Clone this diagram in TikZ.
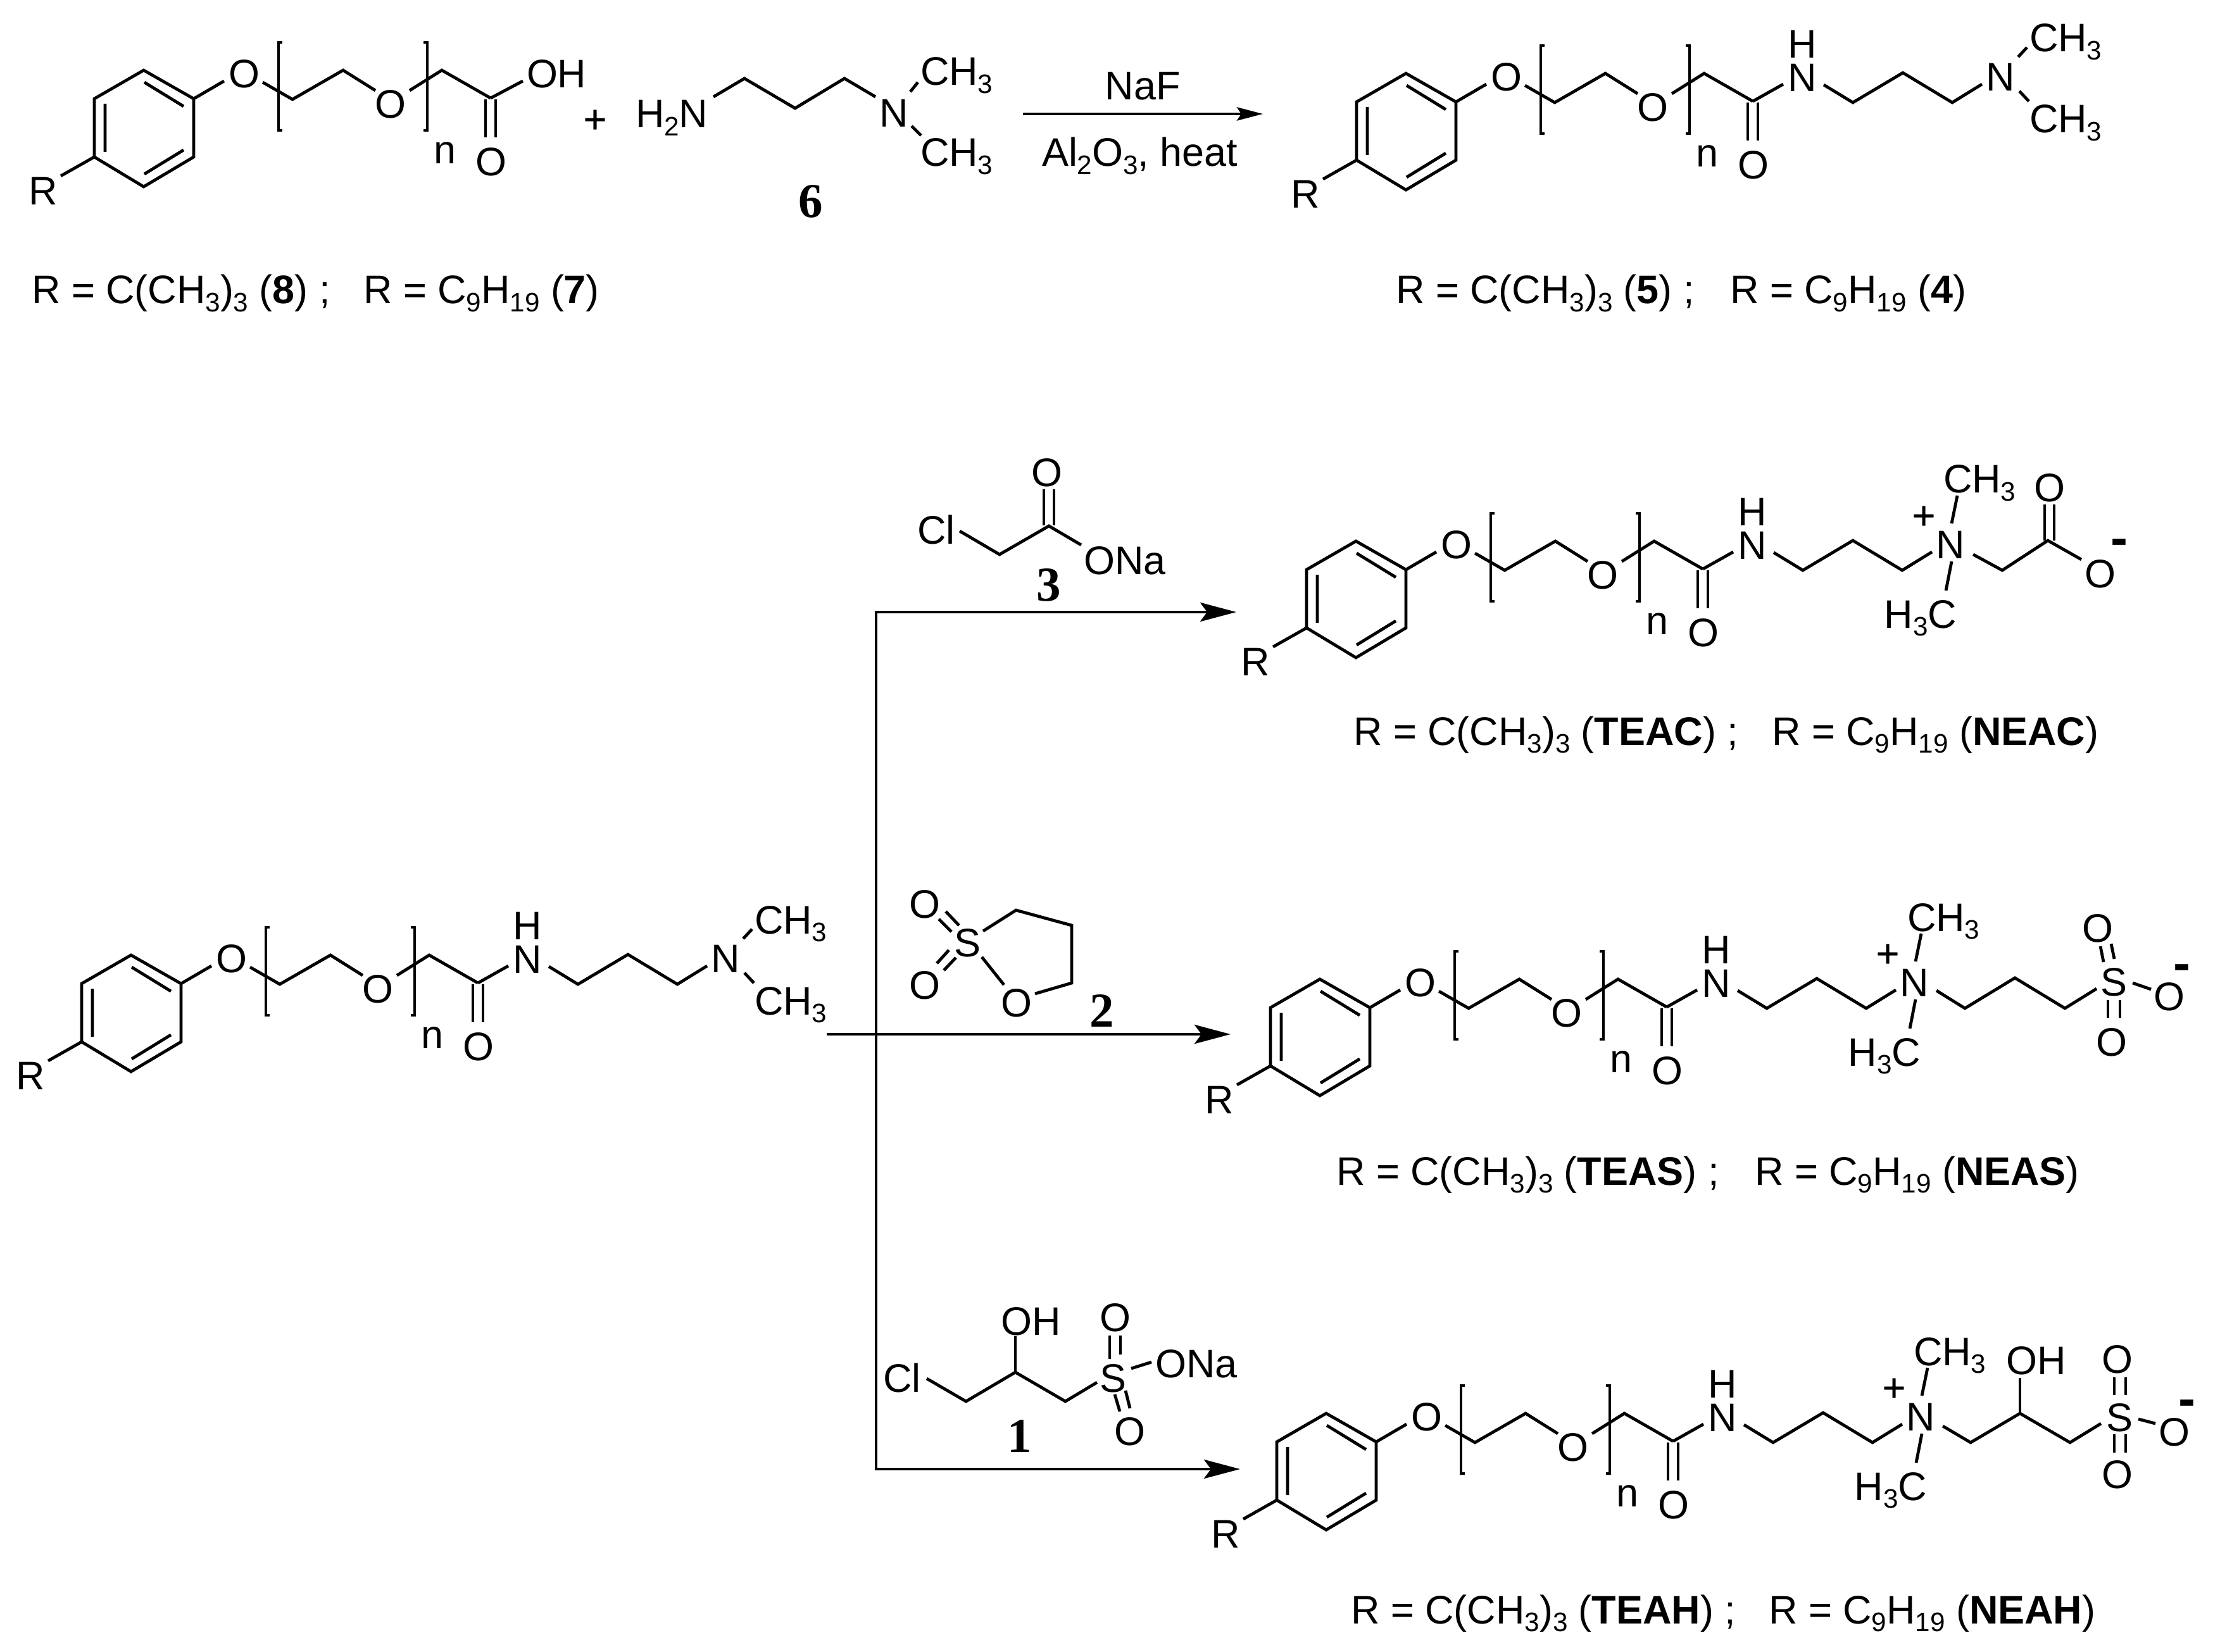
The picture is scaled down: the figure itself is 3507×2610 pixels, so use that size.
\documentclass[tikz,border=0pt]{standalone}
\usepackage{fontspec}
\usetikzlibrary{arrows.meta}
\setmainfont{Liberation Sans}
\newfontfamily\cmpdserif{Liberation Serif}
\newfontfamily\semibold[FakeBold=0.5]{Liberation Sans}
\newcommand{\chemfont}{\fontsize{17.9}{20}\selectfont}
\newcommand{\chsub}[1]{\raisebox{-0.2em}{\fontsize{12}{12}\selectfont #1}}
\newcommand{\eqs}{{\semibold =}}
\tikzset{
  bond/.style={line width=0.048cm,line cap=butt,line join=miter},
  rxn/.style={line width=0.048cm,line join=miter},
  atom/.style={inner sep=0,outer sep=0,font=\chemfont},
  lbl/.style={atom,anchor=base west},
  chg/.style={atom,anchor=base,font=\chemfont\semibold},
  minuslbl/.style={atom,anchor=base,font=\fontsize{23}{23}\selectfont\bfseries},
  cmpd/.style={inner sep=0,outer sep=0,font=\fontsize{21.9}{24}\selectfont\cmpdserif\bfseries},
  bigtip/.tip={Stealth[length=0.57cm,width=0.30cm,inset=0.11cm]},
  smalltip/.tip={Stealth[length=0.41cm,width=0.21cm,inset=0.07cm]},
}
% ring, ether, PEG bracket, carbonyl: carbonyl carbon at (775,155)
\newcommand{\pegbase}{%
  \draw[bond] (227,111) -- (306,156) -- (306,248) -- (227,295) -- (149,248) -- (149,156) -- cycle;
  \draw[bond] (228,130) -- (290,168) (166,164) -- (166,240) (228,275) -- (290,237);
  \node[atom] (R) at (68,302) {R};
  \draw[bond] (149,248) -- (96,278);
  \draw[bond] (306,156) -- (354,128);
  \node[atom] (O1) at (386,117) {O};
  \draw[bond] (415,130) -- (462,157) -- (542,111) -- (593,143);
  \node[atom] (O2) at (617,165) {O};
  \draw[bond] (647,143) -- (698,111) -- (775,155);
  \draw[bond] (446,67) -- (440,67) -- (440,206) -- (446,206);
  \draw[bond] (669,67) -- (675,67) -- (675,206) -- (669,206);
  \node[atom] (n) at (703,242) {n};
  \draw[bond] (767,157) -- (767,217) (783,157) -- (783,217);
  \node[atom] (O3) at (776,256) {O};
}
% amide NH and propyl chain, relative to the carbonyl carbon
\newcommand{\amide}{%
  \draw[bond] (0,0) -- (48,-27);
  \node[atom] (N1) at (78,-37) {N};
  \node[atom] (H1) at (78,-90) {H};
  \draw[bond] (112,-26) -- (158,2) -- (237,-45) -- (315,2) -- (362,-27);
  \node[atom] (N2) at (391,-38) {N};
}
\newcommand{\dimethyl}{%
  \draw[bond] (419,-70) -- (433,-85);
  \node[lbl] (Me1) at (437,-78) {CH\chsub{3}};
  \draw[bond] (421,-16) -- (436,0);
  \node[lbl] (Me2) at (437,50) {CH\chsub{3}};
}
\newcommand{\quat}{%
  \node[chg] (plus) at (349,-63) {+};
  \draw[bond] (393,-72) -- (402,-116);
  \node[lbl] (Me1) at (380,-120) {CH\chsub{3}};
  \draw[bond] (393,-12) -- (384,34);
  \node[lbl,anchor=base east] (Me2) at (401,93) {H\chsub{3}C};
}
% captions
\newcommand{\capt}[6]{%
  \node[lbl] (#1a) at (#2,#4) {R \eqs{} C(CH\chsub{3})\chsub{3} (\textbf{#5}) ;};
  \node[lbl] (#1b) at (#3,#4) {R \eqs{} C\chsub{9}H\chsub{19} (\textbf{#6})};
}
\begin{document}
\begin{tikzpicture}[x=0.01cm,y=-0.01cm]
\useasboundingbox (0,0) rectangle (3507,2610);

% ---- top left acid
\begin{scope}[name prefix=acid-]
  \pegbase
  \draw[bond] (775,155) -- (826,128);
  \node[lbl] (OH) at (832,139) {OH};
\end{scope}
\node[chg] (plustop) at (940,210) {+};
\capt{capA}{50}{574}{480}{8}{7}

% ---- amine 6
\node[lbl] (amineN) at (1004,202) {H\chsub{2}N};
\draw[bond] (1127,153) -- (1176,124) -- (1256,171) -- (1334,124) -- (1383,153);
\node[atom] (amineN2) at (1412,179) {N};
\draw[bond] (1438,145) -- (1450,130);
\node[lbl] (amineMe1) at (1454,135) {CH\chsub{3}};
\draw[bond] (1440,199) -- (1455,214);
\node[lbl] (amineMe2) at (1454,263) {CH\chsub{3}};
\node[cmpd] (six) at (1281,318) {6};

% ---- top arrow
\coordinate (topS) at (1616,180);
\coordinate (topE) at (1995,180);
\draw[rxn,-smalltip] (topS) -- (topE);
\node[atom,anchor=base] (naf) at (1805,158) {NaF};
\node[lbl] (al) at (1646,263) {Al\chsub{2}O\chsub{3}, heat};

% ---- top right product
\begin{scope}[shift={(1994,5)},name prefix=amA-]
  \pegbase
  \begin{scope}[shift={(775,155)}]
    \amide
    \dimethyl
  \end{scope}
\end{scope}
\capt{capB}{2205}{2733}{480}{5}{4}

% ---- middle left amine
\begin{scope}[shift={(-20,1398)},name prefix=amB-]
  \pegbase
  \begin{scope}[shift={(775,155)}]
    \amide
    \dimethyl
  \end{scope}
\end{scope}

% ---- branching arrows
\coordinate (brS) at (1306,1634);
\coordinate (brE) at (1944,1634);
\coordinate (cTop) at (1384,967);
\coordinate (cBot) at (1384,2321);
\coordinate (tTop) at (1953,967);
\coordinate (tBot) at (1959,2321);
\draw[rxn,bigtip-bigtip] (tTop) -- (cTop) -- (cBot) -- (tBot);
\draw[rxn,-bigtip] (brS) -- (brE);

% ---- reagent 3
\node[atom] (r3O) at (1654,747) {O};
\draw[bond] (1649,773) -- (1649,830) (1665,773) -- (1665,830);
\draw[bond] (1516,839) -- (1579,876) -- (1657,831) -- (1708,861);
\node[lbl] (r3Cl) at (1449,859) {Cl};
\node[lbl] (r3ONa) at (1712,907) {ONa};
\node[cmpd] (three) at (1657,924) {3};

% ---- reagent 2
\node[atom] (r2O1) at (1461,1429) {O};
\node[atom] (r2S) at (1528,1490) {S};
\node[atom] (r2O2) at (1461,1557) {O};
\node[atom] (r2O3) at (1606,1585) {O};
\draw[bond] (1494,1440) -- (1515,1462) (1483,1452) -- (1503,1472);
\draw[bond] (1499,1501) -- (1480,1522) (1510,1513) -- (1491,1533);
\draw[bond] (1553,1471) -- (1605,1438) -- (1693,1462) -- (1693,1553) -- (1635,1570);
\draw[bond] (1551,1512) -- (1586,1556);
\node[cmpd] (two) at (1741,1597) {2};

% ---- reagent 1
\node[lbl] (r1Cl) at (1395,2199) {Cl};
\draw[bond] (1464,2178) -- (1526,2214) -- (1604,2168) -- (1683,2214) -- (1733,2184);
\draw[bond] (1604,2168) -- (1604,2111);
\node[lbl] (r1OH) at (1581,2109) {OH};
\node[atom] (r1S) at (1758,2178) {S};
\node[atom] (r1O1) at (1762,2082) {O};
\draw[bond] (1753,2110) -- (1753,2147) (1770,2110) -- (1770,2140);
\draw[bond] (1787,2162) -- (1819,2152);
\node[lbl] (r1ONa) at (1825,2176) {ONa};
\draw[bond] (1761,2203) -- (1769,2230) (1778,2197) -- (1785,2225);
\node[atom] (r1O2) at (1785,2262) {O};
\node[cmpd] (one) at (1611,2269) {1};

% ---- TEAC / NEAC
\begin{scope}[shift={(1915,744)},name prefix=teac-]
  \pegbase
  \begin{scope}[shift={(775,155)}]
    \amide
    \quat
    \draw[bond] (427,-23) -- (473,2) -- (545,-45) -- (598,-15);
    \draw[bond] (540,-45) -- (540,-102) (555,-45) -- (555,-102);
    \node[atom] (O4) at (548,-128) {O};
    \node[atom] (O5) at (628,8) {O};
    \node[minuslbl] (minus) at (658,-22) {-};
  \end{scope}
\end{scope}
\capt{capC}{2138}{2799}{1177}{TEAC}{NEAC}

% ---- TEAS / NEAS
\begin{scope}[shift={(1858,1436)},name prefix=teas-]
  \pegbase
  \begin{scope}[shift={(775,155)}]
    \amide
    \quat
    \draw[bond] (426,-26) -- (471,2) -- (550,-46) -- (629,2) -- (679,-29);
    \node[atom] (S) at (706,-39) {S};
    \draw[bond] (685,-96) -- (690,-71) (702,-100) -- (707,-76);
    \node[atom] (O4) at (681,-124) {O};
    \draw[bond] (697,-11) -- (697,17) (716,-11) -- (716,17);
    \node[atom] (O5) at (703,56) {O};
    \draw[bond] (736,-38) -- (765,-28);
    \node[atom] (O6) at (794,-16) {O};
    \node[minuslbl] (minus) at (814,-42) {-};
  \end{scope}
\end{scope}
\capt{capD}{2111}{2772}{1872}{TEAS}{NEAS}

% ---- TEAH / NEAH
\begin{scope}[shift={(1868,2122)},name prefix=teah-]
  \pegbase
  \begin{scope}[shift={(775,155)}]
    \amide
    \quat
    \draw[bond] (426,-24) -- (470,2) -- (548,-44) -- (627,2) -- (676,-28);
    \draw[bond] (548,-44) -- (548,-100);
    \node[lbl] (OH) at (526,-106) {OH};
    \node[atom] (S) at (705,-37) {S};
    \draw[bond] (697,-101) -- (697,-73) (715,-101) -- (715,-73);
    \node[atom] (O4) at (702,-129) {O};
    \draw[bond] (697,-11) -- (697,18) (715,-11) -- (715,18);
    \node[atom] (O5) at (702,53) {O};
    \draw[bond] (735,-35) -- (762,-28);
    \node[atom] (O6) at (792,-14) {O};
    \node[minuslbl] (minus) at (812,-40) {-};
  \end{scope}
\end{scope}
\capt{capE}{2134}{2794}{2565}{TEAH}{NEAH}
\end{tikzpicture}
\end{document}
